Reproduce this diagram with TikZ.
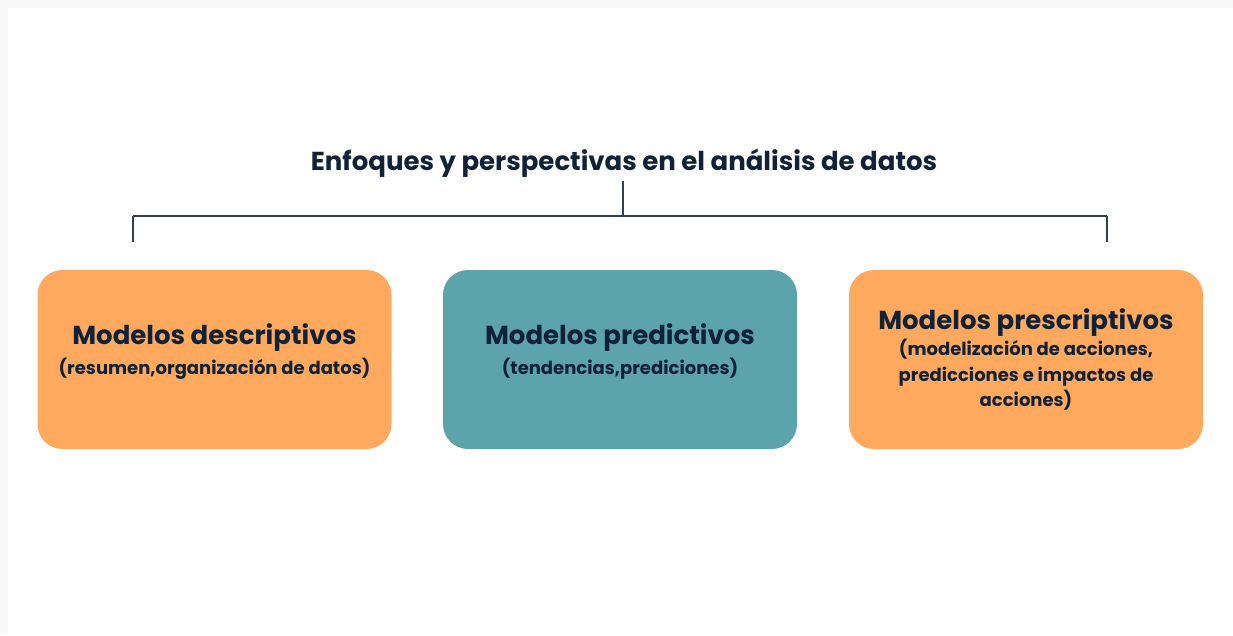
\documentclass[tikz,border=0pt]{standalone}
\usepackage{fontspec}
\setmainfont{Poppins}
\usepackage{tikz}
\usetikzlibrary{calc,positioning}

\definecolor{naranja}{HTML}{FFA95F}
\definecolor{verdeazul}{HTML}{5DA3AB}
\definecolor{tinta}{HTML}{0F2238}
\definecolor{linea}{HTML}{33404F}
\definecolor{marco}{HTML}{F9F9F9}

\newcommand{\tit}[1]{{\fontsize{26}{30}\selectfont\bfseries #1}}
\newcommand{\sub}[1]{{\fontsize{18}{25.5}\selectfont\bfseries #1}}

\tikzset{
	modelo/.style={rounded corners=25pt, minimum width=354pt, minimum height=179pt,
		align=center, text=tinta, inner sep=0pt, font=\fontsize{18}{25.5}\selectfont},
	rama/.style={draw=linea, line width=1.6pt},
}

\begin{document}
\begin{tikzpicture}[x=1pt,y=-1pt]
				%\draw[color=gray,step=50, help lines,opacity=0.3] (0,0) grid (1233,635); %help grids
				\fill[marco] (0,0) rectangle (1233,635);
				\fill[white] (8,8) rectangle (1233,635);
				\useasboundingbox (0,0) rectangle (1233,635);
				\node[text=tinta, font=\fontsize{26}{30}\selectfont\bfseries] (titulo) at (624,163) {Enfoques y perspectivas en el análisis de datos};
				\node[modelo, fill=naranja] (desc) at (214.5,359.5) {\tit{Modelos descriptivos}\\[5pt] \sub{(resumen,organización de datos)}\\[-5pt]};
				\node[modelo, fill=verdeazul] (pred) at (620,359.5) {\tit{Modelos predictivos}\\[5pt] \sub{(tendencias,prediciones)}\\[-5pt]};
				\node[modelo, fill=naranja] (presc) at (1026,359.5) {\tit{Modelos prescriptivos}\\[1pt] \sub{(modelización de acciones,}\\ \sub{predicciones e impactos de}\\ \sub{acciones)}};
				\coordinate (cruce) at (623,216);
				\coordinate (izq) at (133,216);
				\coordinate (der) at (1107,216);
				\draw[rama] (titulo.south -| cruce) -- (cruce);
				\draw[rama] (izq) -- (der);
				\draw[rama] (izq) -- ++(0,26);
				\draw[rama] (der) -- ++(0,26);
\end{tikzpicture}
\end{document}
